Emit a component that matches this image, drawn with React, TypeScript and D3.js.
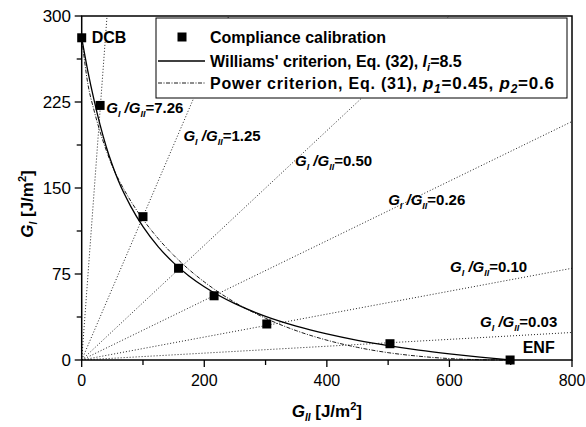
import React from "react";
import * as d3 from "d3";

// ---- data ----
const pointGII = [0, 30, 100, 158, 216, 302, 503, 699];
const pointGI = [281, 222, 125, 80, 56, 31.4, 14.2, 0];

const curveGII = [0, 10, 20, 30, 40, 50, 60, 80, 100, 125, 150, 175, 200, 250, 300, 350, 400, 450, 500, 550, 600, 650, 700];
const williamsGI = [281, 252, 227, 205, 186, 170, 156, 134, 116.3, 98.7, 84.7, 73.3, 63.9, 49.1, 38.1, 29.6, 22.8, 17.2, 12.6, 8.7, 5.4, 2.5, 0];
const powerGI = [281, 241, 218, 199, 183, 169, 157.7, 138.7, 122.7, 105.8, 91.4, 78.9, 68.1, 50.2, 36.4, 25.6, 17.3, 11.0, 6.4, 3.3, 1.25, 0.26, 0];

const ratios = [7.26, 1.25, 0.5, 0.26, 0.1, 0.03];
const ratioLabels = ["7.26", "1.25", "0.50", "0.26", "0.10", "0.03"];
const ratioLabelGII = [40, 166, 348, 500, 601, 650];
const ratioLabelGI = [215.7, 191.3, 169.2, 135.2, 77.0, 29.0];

const xTicks = [0, 200, 400, 600, 800];
const xMinor = [100, 300, 500, 700];
const yTicks = [0, 75, 150, 225, 300];
const yMinor = [37.5, 112.5, 187.5, 262.5];

const FONT = "'Liberation Sans', Arial, Helvetica, sans-serif";

export default function App() {
  const W = 586, H = 427;
  const x = d3.scaleLinear().domain([0, 800]).range([81.7, 572]);
  const y = d3.scaleLinear().domain([0, 300]).range([360, 16]);

  const williamsLine = d3
    .line<number>()
    .x((_, i) => x(curveGII[i]))
    .y((d) => y(d))
    .curve(d3.curveMonotoneX)(williamsGI) as string;
  const powerLine = d3
    .line<number>()
    .x((_, i) => x(curveGII[i]))
    .y((d) => y(d))
    .curve(d3.curveMonotoneX)(powerGI) as string;

  const ratioLabel = (i: number) => {
    const fs = 15;
    return (
      <text key={"rl" + i} x={x(ratioLabelGII[i])} y={y(ratioLabelGI[i])} fontSize={fs} fontWeight="bold" fontFamily={FONT} fill="#000">
        <tspan fontStyle="italic">G</tspan>
        <tspan fontStyle="italic" fontSize={fs * 0.6} dy={4}>I</tspan>
        <tspan fontStyle="italic" dy={-4}> /G</tspan>
        <tspan fontStyle="italic" fontSize={fs * 0.6} dy={4}>II</tspan>
        <tspan dy={-4}>={ratioLabels[i]}</tspan>
      </text>
    );
  };

  const sq = 9;

  return (
    <svg width={W} height={H} style={{ position: "absolute", left: 0, top: 0, background: "#fff" }} fontFamily={FONT}>
      <rect x={0} y={0} width={W} height={H} fill="#fff" />
      <defs>
        <clipPath id="plotclip">
          <rect x={x(0)} y={y(300)} width={x(800) - x(0)} height={y(0) - y(300)} />
        </clipPath>
      </defs>

      {/* ratio lines */}
      <g clipPath="url(#plotclip)">
        {ratios.map((r, i) => {
          const endX = r * 800 <= 300 ? 800 : 300 / r;
          const endY = r * endX;
          return (
            <line key={"r" + i} x1={x(0)} y1={y(0)} x2={x(endX)} y2={y(endY)} stroke="#222" strokeWidth={1} strokeDasharray="1,2" />
          );
        })}
      </g>

      {/* curves */}
      <path d={williamsLine} fill="none" stroke="#000" strokeWidth={1.3} />
      <path d={powerLine} fill="none" stroke="#000" strokeWidth={0.9} strokeDasharray="4,1.5,1,1.5" />

      {/* ratio labels */}
      {ratios.map((_, i) => ratioLabel(i))}

      {/* frame */}
      <rect x={x(0)} y={y(300)} width={x(800) - x(0)} height={y(0) - y(300)} fill="none" stroke="#000" strokeWidth={1.5} />

      {/* x ticks */}
      {xTicks.map((t) => (
        <g key={"xt" + t}>
          <line x1={x(t)} x2={x(t)} y1={y(0)} y2={y(0) + 7} stroke="#000" strokeWidth={1.3} />
          <text x={x(t)} y={386} fontSize={16} textAnchor="middle" fill="#000">{t}</text>
        </g>
      ))}
      {xMinor.map((t) => (
        <line key={"xm" + t} x1={x(t)} x2={x(t)} y1={y(0)} y2={y(0) + 5} stroke="#000" strokeWidth={1.3} />
      ))}
      {/* y ticks */}
      {yTicks.map((t) => (
        <g key={"yt" + t}>
          <line x1={x(0) - 7} x2={x(0)} y1={y(t)} y2={y(t)} stroke="#000" strokeWidth={1.3} />
          <text x={71} y={y(t)} dy="0.36em" fontSize={17} textAnchor="end" fill="#000">{t}</text>
        </g>
      ))}
      {yMinor.map((t) => (
        <line key={"ym" + t} x1={x(0) - 5} x2={x(0)} y1={y(t)} y2={y(t)} stroke="#000" strokeWidth={1.3} />
      ))}

      {/* points */}
      {pointGII.map((g, i) => (
        <rect key={"p" + i} x={x(g) - sq / 2} y={y(pointGI[i]) - sq / 2} width={sq} height={sq} fill="#000" />
      ))}

      {/* point annotations */}
      <text x={x(16.3)} y={y(276.5)} fontSize={16} fontWeight="bold" fill="#000">DCB</text>
      <text x={x(719.5)} y={y(6.1)} fontSize={16} fontWeight="bold" fill="#000">ENF</text>

      {/* legend */}
      <g>
        <rect x={156} y={18} width={411} height={80} fill="#fff" stroke="#000" strokeWidth={1} />
        <rect x={182 - sq / 2} y={37 - sq / 2} width={sq} height={sq} fill="#000" />
        <text x={210} y={37} dy="0.36em" fontSize={16} fontWeight="bold" fill="#000">Compliance calibration</text>
        <line x1={158} x2={205} y1={61} y2={61} stroke="#000" strokeWidth={1.3} />
        <text x={210} y={61} dy="0.36em" fontSize={16} fontWeight="bold" fill="#000">
          Williams' criterion, Eq. (32), <tspan fontStyle="italic">I</tspan>
          <tspan fontStyle="italic" fontSize={11} dy={4}>i</tspan>
          <tspan dy={-4}>=8.5</tspan>
        </text>
        <line x1={158} x2={205} y1={83} y2={83} stroke="#000" strokeWidth={0.9} strokeDasharray="4,1.5,1,1.5" />
        <text x={210} y={83} dy="0.36em" fontSize={16} fontWeight="bold" fill="#000" textLength={344} lengthAdjust="spacing">
          Power criterion, Eq. (31), <tspan fontStyle="italic" fontSize={17}>p</tspan>
          <tspan fontStyle="italic" fontSize={12} dy={4}>1</tspan>
          <tspan dy={-4} fontSize={17}>=0.45, </tspan>
          <tspan fontStyle="italic" fontSize={17}>p</tspan>
          <tspan fontStyle="italic" fontSize={12} dy={4}>2</tspan>
          <tspan dy={-4} fontSize={17}>=0.6</tspan>
        </text>
      </g>

      {/* axis titles */}
      <text x={x(400)} y={417} fontSize={17} fontWeight="bold" textAnchor="middle" fill="#000">
        <tspan fontStyle="italic">G</tspan>
        <tspan fontStyle="italic" fontSize={10} dy={4}>II</tspan>
        <tspan dy={-4}> [J/m</tspan>
        <tspan fontSize={11} dy={-7}>2</tspan>
        <tspan dy={7}>]</tspan>
      </text>
      <text transform="translate(33,204) rotate(-90)" x={0} y={0} fontSize={17} fontWeight="bold" textAnchor="middle" fill="#000">
        <tspan fontStyle="italic">G</tspan>
        <tspan fontStyle="italic" fontSize={10} dy={4}>I</tspan>
        <tspan dy={-4}> [J/m</tspan>
        <tspan fontSize={11} dy={-7}>2</tspan>
        <tspan dy={7}>]</tspan>
      </text>
    </svg>
  );
}
